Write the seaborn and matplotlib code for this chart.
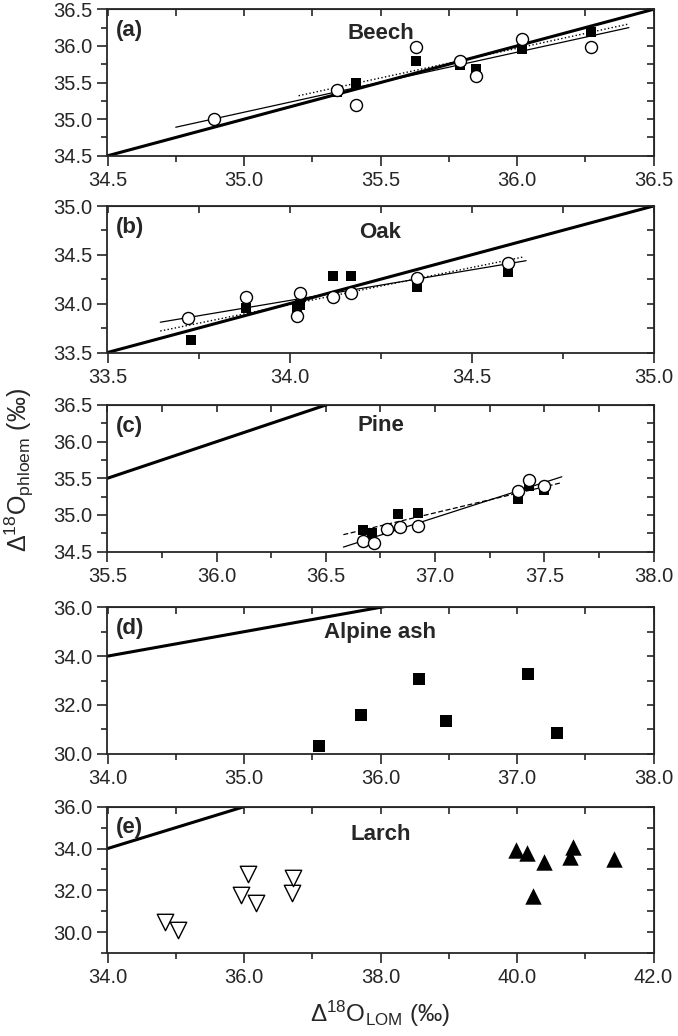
import seaborn as sns
from matplotlib import pyplot as plt
from matplotlib.ticker import MultipleLocator, FormatStrFormatter

# data
beech_open_x = [34.89, 35.34, 35.41, 35.63, 35.79, 35.85, 36.02, 36.27]
beech_open_y = [35.00, 35.40, 35.19, 35.99, 35.80, 35.59, 36.10, 35.99]
beech_fill_x = [35.34, 35.41, 35.63, 35.79, 35.85, 36.02, 36.27]
beech_fill_y = [35.37, 35.50, 35.79, 35.74, 35.69, 35.96, 36.19]
beech_fit_open_x = [34.75, 36.41]
beech_fit_open_y = [34.89, 36.25]
beech_fit_fill_x = [35.2, 36.41]
beech_fit_fill_y = [35.32, 36.30]

oak_open_x = [33.72, 33.88, 34.02, 34.03, 34.12, 34.17, 34.35, 34.60]
oak_open_y = [33.85, 34.07, 33.87, 34.11, 34.07, 34.11, 34.26, 34.42]
oak_fill_x = [33.73, 33.88, 34.02, 34.03, 34.12, 34.17, 34.35, 34.60]
oak_fill_y = [33.63, 33.96, 33.96, 33.99, 34.28, 34.28, 34.17, 34.32]
oak_fit_open_x = [33.645, 34.65]
oak_fit_open_y = [33.81, 34.44]
oak_fit_fill_x = [33.645, 34.645]
oak_fit_fill_y = [33.72, 34.48]

pine_open_x = [36.67, 36.72, 36.78, 36.84, 36.92, 37.38, 37.43, 37.50]
pine_open_y = [34.65, 34.61, 34.81, 34.83, 34.85, 35.32, 35.48, 35.40]
pine_fill_x = [36.67, 36.71, 36.78, 36.83, 36.92, 37.38, 37.43, 37.50]
pine_fill_y = [34.80, 34.75, 34.80, 35.01, 35.03, 35.21, 35.39, 35.34]
pine_fit_open_x = [36.58, 37.58]
pine_fit_open_y = [34.56, 35.52]
pine_fit_fill_x = [36.58, 37.58]
pine_fit_fill_y = [34.73, 35.44]

ash_x = [35.55, 35.86, 36.28, 36.48, 37.08, 37.29]
ash_y = [30.31, 31.57, 33.08, 31.34, 33.25, 30.87]

larch_open_x = [34.84, 35.03, 35.95, 36.06, 36.17, 36.71, 36.72]
larch_open_y = [30.48, 30.13, 31.79, 32.79, 31.40, 31.87, 32.57]
larch_fill_x = [39.98, 40.15, 40.23, 40.39, 40.77, 40.82, 41.42]
larch_fill_y = [33.94, 33.81, 31.71, 33.38, 33.62, 34.06, 33.49]

one_to_one = [29.0, 42.0]

species = ["Beech", "Oak", "Pine", "Alpine ash", "Larch"]
letters = ["(a)", "(b)", "(c)", "(d)", "(e)"]

sns.set_style("ticks")
plt.rcParams['font.family'] = ['Liberation Sans', 'DejaVu Sans']
plt.rcParams['mathtext.fontset'] = 'custom'
plt.rcParams['mathtext.rm'] = 'Liberation Sans'
plt.rcParams['mathtext.it'] = 'Liberation Sans'

W, H = 678, 1036
fig = plt.figure(figsize=(W / 100, H / 100), dpi=100)

left, right = 107.5, 653.5
tops = [9.3, 206.0, 405.0, 607.3, 806.7]
height = 146.5

# (xlim, ylim, x major, x minor, y major, y minor)
limits = [
    ((34.5, 36.5), (34.5, 36.5), 0.5, 0.25, 0.5, 0.25),
    ((33.5, 35.0), (33.5, 35.0), 0.5, 0.25, 0.5, 0.25),
    ((35.5, 38.0), (34.5, 36.5), 0.5, 0.25, 0.5, 0.25),
    ((34.0, 38.0), (30.0, 36.0), 1.0, 0.5, 2.0, 1.0),
    ((34.0, 42.0), (29.0, 36.0), 2.0, 1.0, 2.0, 1.0),
]
text_y = [0.835, 0.82, 0.86, 0.83, 0.81]

axes = []
for i, t in enumerate(tops):
    ax = fig.add_axes([left / W, 1 - (t + height) / H, (right - left) / W, height / H])
    axes.append(ax)
    xl, yl, xmaj, xmin, ymaj, ymin = limits[i]
    ax.plot(one_to_one, one_to_one, color='black', lw=2.2, zorder=2, solid_capstyle='butt')
    ax.set_xlim(xl)
    ax.set_ylim(yl)
    ax.xaxis.set_major_locator(MultipleLocator(xmaj))
    ax.xaxis.set_minor_locator(MultipleLocator(xmin))
    ax.yaxis.set_major_locator(MultipleLocator(ymaj))
    ax.yaxis.set_minor_locator(MultipleLocator(ymin))
    ax.xaxis.set_major_formatter(FormatStrFormatter('%.1f'))
    ax.yaxis.set_major_formatter(FormatStrFormatter('%.1f'))
    ax.tick_params(which='major', direction='out', length=7, width=1.2, labelsize=14.5, pad=4)
    ax.tick_params(which='minor', direction='out', length=4, width=1.2)
    for s in ax.spines.values():
        s.set_linewidth(1.3)
    # inward ticks on top and right
    top = ax.secondary_xaxis('top')
    top.xaxis.set_major_locator(MultipleLocator(xmin))
    top.tick_params(direction='in', length=5, width=1.2, labeltop=False)
    rgt = ax.secondary_yaxis('right')
    rgt.yaxis.set_major_locator(MultipleLocator(ymin))
    rgt.tick_params(direction='in', length=5, width=1.2, labelright=False)
    ax.text(0.015, 0.855, letters[i], transform=ax.transAxes, fontsize=16,
            fontweight='bold', ha='left', va='center')
    ax.text(0.5, text_y[i], species[i], transform=ax.transAxes, fontsize=16,
            fontweight='bold', ha='center', va='center')
    ax.set_xlabel('')
    ax.set_ylabel('')

open_kw = dict(marker='o', s=75, facecolor='white', edgecolor='black', linewidth=1.0, zorder=4)
sq_kw = dict(marker='s', s=60, color='black', linewidth=0, zorder=3)

# (a) Beech
ax = axes[0]
ax.plot(beech_fit_open_x, beech_fit_open_y, color='black', lw=0.9, zorder=2)
ax.plot(beech_fit_fill_x, beech_fit_fill_y, color='black', lw=1.0, ls=':', zorder=2)
sns.scatterplot(x=beech_fill_x, y=beech_fill_y, ax=ax, **sq_kw)
sns.scatterplot(x=beech_open_x, y=beech_open_y, ax=ax, **open_kw)

# (b) Oak
ax = axes[1]
ax.plot(oak_fit_open_x, oak_fit_open_y, color='black', lw=0.9, zorder=2)
ax.plot(oak_fit_fill_x, oak_fit_fill_y, color='black', lw=1.0, ls=':', zorder=2)
sns.scatterplot(x=oak_fill_x, y=oak_fill_y, ax=ax, **sq_kw)
sns.scatterplot(x=oak_open_x, y=oak_open_y, ax=ax, **open_kw)

# (c) Pine
ax = axes[2]
ax.plot(pine_fit_open_x, pine_fit_open_y, color='black', lw=0.9, zorder=2)
ax.plot(pine_fit_fill_x, pine_fit_fill_y, color='black', lw=0.9, ls=(0, (4, 2)), zorder=2)
sns.scatterplot(x=pine_fill_x, y=pine_fill_y, ax=ax, **sq_kw)
sns.scatterplot(x=pine_open_x, y=pine_open_y, ax=ax, **open_kw)

# (d) Alpine ash
ax = axes[3]
sns.scatterplot(x=ash_x, y=ash_y, ax=ax, marker='s', s=75, color='black', linewidth=0, zorder=3)

# (e) Larch
ax = axes[4]
sns.scatterplot(x=larch_open_x, y=larch_open_y, ax=ax, marker='v', s=140,
                facecolor='white', edgecolor='black', linewidth=1.0, zorder=3)
sns.scatterplot(x=larch_fill_x, y=larch_fill_y, ax=ax, marker='^', s=140,
                color='black', linewidth=0, zorder=3)
ax.set_xlabel(r'$\Delta^{18}$O$_{\mathrm{LOM}}$ (‰)', fontsize=17.5, labelpad=8)

fig.text(0.028, 0.546, r'$\Delta^{18}$O$_{\mathrm{phloem}}$ (‰)', rotation=90,
         fontsize=18, ha='center', va='center')

fig.savefig('out.png', dpi=100)
